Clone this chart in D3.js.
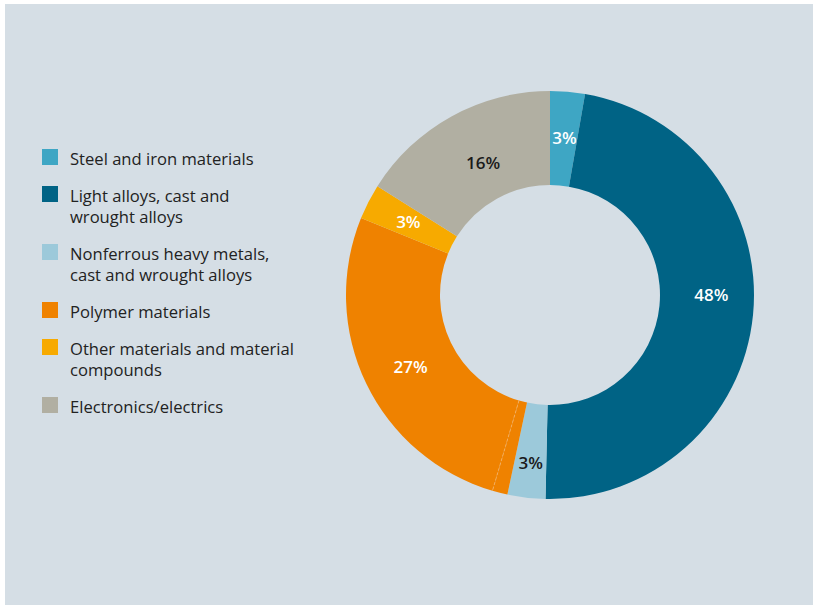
<!DOCTYPE html>
<html><head><meta charset="utf-8">
<script src="https://cdn.jsdelivr.net/npm/d3@7"></script>
<style>html,body{margin:0;padding:0;background:#fff;}svg{display:block;}</style>
</head><body>
<script>
// Legend categories and colours
const categories = [
  "Steel and iron materials",
  "Light alloys, cast and wrought alloys",
  "Nonferrous heavy metals, cast and wrought alloys",
  "Polymer materials",
  "Other materials and material compounds",
  "Electronics/electrics"
];
const legendLines = [
  ["Steel and iron materials"],
  ["Light alloys, cast and", "wrought alloys"],
  ["Nonferrous heavy metals,", "cast and wrought alloys"],
  ["Polymer materials"],
  ["Other materials and material", "compounds"],
  ["Electronics/electrics"]
];
const colors = ["#3ea6c4", "#006385", "#9cc9da", "#ef8200", "#f7aa00", "#b1afa2"];
// Pie slices (clockwise from 12 o'clock); polymer drawn as two parts
const sliceCategory = [0, 1, 2, 3, 3, 4, 5];
const sliceValue    = [2.75, 47.6, 3.0, 1.2, 26.6, 2.8, 16.05];
const sliceLabel    = ["3%", "48%", "3%", "", "27%", "3%", "16%"];
const labelDark     = [false, false, true, false, false, false, true];

// layout: small manual label nudges (px) from the slice centroid
const labelNudge = [[1, -1], [5, -15], [-1, 12], [0, 0], [2, 4], [-2, -1], [9, 5]];

const W = 813, H = 606;
const svg = d3.select("body").append("svg").attr("width", W).attr("height", H);
svg.append("rect").attr("x", 5).attr("y", 4).attr("width", W - 5).attr("height", 601).attr("fill", "#d5dee5");

const cx = 550, cy = 295, rOuter = 204, rInner = 110;
const g = svg.append("g").attr("transform", `translate(${cx},${cy})`);
const pie = d3.pie().sort(null).value(d => d.v);
const data = sliceValue.map((v, i) => ({v, c: sliceCategory[i], label: sliceLabel[i], dark: labelDark[i], i}));
const arcs = pie(data);
const arc = d3.arc().innerRadius(rInner).outerRadius(rOuter);

g.selectAll("path.slice").data(arcs).join("path")
  .attr("class", "slice")
  .attr("d", arc)
  .attr("fill", d => colors[d.data.c]);

// faint separator between the two polymer parts
const sep = arcs[3].endAngle;
g.append("line")
  .attr("x1", rInner * Math.sin(sep)).attr("y1", -rInner * Math.cos(sep))
  .attr("x2", rOuter * Math.sin(sep)).attr("y2", -rOuter * Math.cos(sep))
  .attr("stroke", "#f6b46a").attr("stroke-width", 0.8).attr("stroke-dasharray", "3,2");

g.selectAll("text.lbl").data(arcs.filter(d => d.data.label)).join("text")
  .attr("class", "lbl")
  .attr("transform", d => {
    const a = (d.startAngle + d.endAngle) / 2;
    const r = 157;
    const n = labelNudge[d.data.i];
    return `translate(${r * Math.sin(a) + n[0]},${-r * Math.cos(a) + n[1]})`;
  })
  .attr("text-anchor", "middle")
  .attr("dy", "0.36em")
  .attr("font-family", "'Open Sans', sans-serif")
  .attr("font-weight", 600)
  .attr("font-size", 17)
  .attr("fill", d => d.data.dark ? "#1a1a1a" : "#ffffff")
  .text(d => d.data.label);

// Legend
const legend = svg.append("g").attr("font-family", "'Open Sans', sans-serif").attr("font-size", 16.6).attr("fill", "#222");
let y = 149;
legendLines.forEach((lines, i) => {
  legend.append("rect").attr("x", 42).attr("y", y).attr("width", 16).attr("height", 16).attr("fill", colors[i]);
  const t = legend.append("text").attr("x", 70).attr("y", y + 16);
  lines.forEach((ln, j) => t.append("tspan").attr("x", 70).attr("dy", j === 0 ? 0 : 20.5).text(ln));
  y += 37 + (lines.length - 1) * 21;
});
</script>
</body></html>
